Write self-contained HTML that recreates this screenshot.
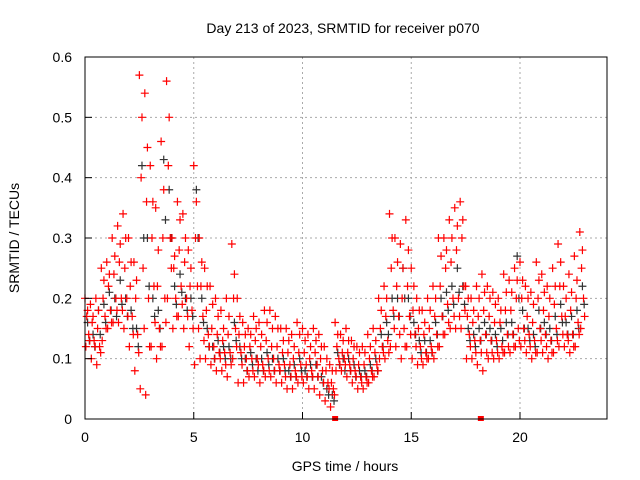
<!DOCTYPE html>
<html><head><meta charset="utf-8"><style>
body{margin:0;background:#fff}
svg{display:block;font-family:"Liberation Sans",sans-serif}
</style></head><body>
<svg id="chart" width="640" height="480" viewBox="0 0 640 480">
<rect width="640" height="480" fill="#fff"/>
<text x="343" y="33" font-size="14" text-anchor="middle">Day 213 of 2023, SRMTID for receiver p070</text>
<text transform="translate(19,238) rotate(-90)" font-size="14" text-anchor="middle">SRMTID / TECUs</text>
<text x="345" y="471" font-size="14" text-anchor="middle">GPS time / hours</text>
<g id="grid"></g>
<g id="marks"></g>
<rect x="85" y="57" width="522" height="362" fill="none" stroke="#000" stroke-width="1"/>
<g id="ticks"></g>
</svg>
<script>
const xTicks=[0,5,10,15,20];
const yTicks=[0,0.1,0.2,0.3,0.4,0.5,0.6];
const yTickLabels=["0","0.1","0.2","0.3","0.4","0.5","0.6"];
const slotHours=0.25;
const redHi=[.2,.19,.2,.25,.26,.3,.32,.34,.3,.26,.57,.54,.42,.35,.46,.56,.3,.36,.34,.28,.42,.3,.25,.22,.2,.18,.2,.29,.2,.16,.15,.17,.16,.18,.18,.17,.15,.15,.14,.16,.15,.14,.15,.14,.12,.09,
.16,.14,.15,.13,.12,.12,.14,.15,.2,.22,.34,.3,.29,.33,.25,.2,.18,.2,.22,.3,.3,.33,.35,.36,.22,.2,.22,.24,.22,.21,.2,.24,.23,.25,.26,.22,.21,.26,.24,.22,.25,.29,.22,.24,.27,.31];
const redMid3=[.18,.17,.18,.23,.24,.27,.29,.3,.26,.23,.5,.45,.36,.28,.38,.5,.27,.33,.3,.25,.36,.26,.22,.19,.17,.15,.17,.24,.17,.14,.14,.15,.14,.16,.15,.15,.13,.13,.12,.14,.13,.12,.13,.12,.1,.08,
.14,.13,.13,.12,.11,.11,.12,.13,.18,.2,.3,.26,.25,.28,.22,.18,.16,.18,.2,.27,.28,.3,.32,.33,.2,.18,.2,.21,.2,.19,.18,.21,.21,.23,.23,.2,.19,.23,.21,.2,.22,.26,.2,.21,.23,.28];
const redMid1=[.17,.16,.15,.2,.22,.24,.26,.25,.22,.2,.4,.36,.3,.22,.3,.42,.25,.28,.26,.22,.3,.22,.18,.15,.14,.13,.14,.2,.14,.12,.12,.13,.12,.13,.12,.12,.11,.11,.1,.11,.11,.1,.11,.1,.08,.06,
.12,.11,.11,.1,.09,.09,.1,.11,.15,.17,.25,.22,.2,.22,.18,.15,.14,.15,.17,.22,.25,.26,.28,.3,.17,.16,.17,.18,.17,.16,.16,.18,.18,.2,.2,.17,.16,.2,.18,.17,.19,.22,.17,.18,.2,.25];
const redMid2=[.14,.13,.12,.17,.18,.2,.2,.2,.17,.14,.25,.2,.22,.15,.2,.3,.2,.22,.2,.18,.22,.17,.14,.12,.11,.11,.11,.15,.11,.1,.1,.1,.09,.1,.1,.09,.09,.09,.08,.09,.09,.08,.09,.08,.06,.05,
.1,.1,.09,.08,.07,.07,.08,.09,.12,.13,.18,.17,.15,.17,.14,.12,.11,.12,.14,.17,.19,.2,.2,.22,.14,.13,.13,.14,.13,.13,.12,.14,.14,.15,.15,.14,.13,.15,.14,.13,.15,.17,.14,.14,.16,.2];
const redMid4=[.13,.12,.11,.15,.16,.18,.18,.17,.14,.11,.15,.12,.16,.12,.16,.25,.17,.19,.17,.15,.15,.13,.12,.1,.1,.09,.09,.12,.09,.08,.08,.09,.08,.08,.08,.08,.07,.07,.07,.07,.07,.07,.07,.06,.05,.04,
.09,.09,.08,.07,.06,.06,.07,.08,.11,.11,.15,.14,.12,.14,.12,.1,.1,.11,.12,.14,.16,.17,.17,.18,.12,.11,.11,.11,.11,.11,.11,.12,.12,.13,.13,.12,.11,.13,.12,.11,.13,.14,.13,.12,.14,.17];
const redLo=[.12,.1,.09,.13,.15,.16,.16,.15,.12,.08,.05,.04,.12,.1,.12,.2,.15,.17,.15,.12,.09,.1,.1,.09,.08,.08,.07,.1,.06,.06,.07,.07,.06,.07,.07,.06,.06,.05,.05,.06,.06,.05,.05,.04,.03,.02,
.08,.08,.07,.06,.05,.05,.06,.07,.1,.1,.12,.12,.1,.12,.1,.09,.09,.1,.1,.12,.14,.15,.15,.15,.1,.1,.09,.08,.1,.1,.1,.11,.11,.12,.12,.11,.1,.11,.11,.1,.11,.12,.12,.11,.12,.15];
const black=[.16,.14,.18,.19,.21,.2,.23,.2,.18,.15,.42,.3,.2,.18,.43,.38,.22,.24,.2,.2,.38,.2,.15,.12,.13,.12,.12,.16,.12,.1,.11,.1,.1,.11,.1,.1,.1,.08,.09,.1,.08,.09,.09,.07,.05,.04,
.11,.1,.1,.09,.08,.08,.09,.1,.14,.16,.2,.2,.25,.2,.16,.13,.13,.13,.16,.2,.21,.22,.25,.22,.15,.14,.15,.16,.15,.14,.15,.16,.16,.27,.18,.15,.14,.18,.16,.15,.17,.19,.16,.17,.18,.22];
const black2=[.13,.12,.14,.16,.18,.17,.19,.17,.15,.12,.3,.22,.17,.15,.33,.3,.19,.21,.18,.17,.3,.16,.12,.1,.11,.1,.1,.13,.1,.08,.09,.08,.08,.09,.08,.08,.08,.07,.07,.08,.07,.07,.07,.06,.04,.03,
.09,.08,.08,.07,.07,.07,.08,.08,.12,.14,.17,.17,.2,.17,.14,.11,.11,.11,.14,.17,.18,.19,.21,.19,.13,.12,.13,.14,.13,.12,.13,.14,.14,.2,.15,.13,.12,.15,.14,.13,.14,.16,.14,.14,.15,.19];
const gapHours=[11.5,18.2];
const NS="http://www.w3.org/2000/svg";
const X=t=>85+t*(435/20);
const Y=v=>419-v*(362/0.6);
function mk(tag,attrs,parent){const e=document.createElementNS(NS,tag);for(const k in attrs)e.setAttribute(k,attrs[k]);parent.appendChild(e);return e;}
const grid=document.getElementById('grid'),ticks=document.getElementById('ticks'),marks=document.getElementById('marks');
xTicks.forEach(t=>{
 if(t>0){const g=mk('line',{x1:X(t),x2:X(t),y1:57,y2:419,stroke:'#aaa','stroke-dasharray':'2,3'},grid);
 
 }
 const tk=mk('line',{x1:X(t),x2:X(t),y1:419,y2:412,stroke:'#000'},ticks);
 
 
 const tx=mk('text',{x:X(t),y:442,'font-size':14,'text-anchor':'middle'},ticks);tx.textContent=t;
 
 
});
yTicks.forEach((v,i)=>{
 if(v>0){const g=mk('line',{x1:85,x2:607,y1:Y(v),y2:Y(v),stroke:'#aaa','stroke-dasharray':'2,3'},grid);
 
 }
 const tk=mk('line',{x1:85,x2:92,y1:Y(v),y2:Y(v),stroke:'#000'},ticks);
 
 
 const tx=mk('text',{x:72,y:Y(v)+5,'font-size':14,'text-anchor':'end'},ticks);tx.textContent=yTickLabels[i];
 
 
});
function plus(t,v,color,name){
 const x=X(t),y=Y(v);
 const p=mk('path',{d:`M${x-4},${y}h8M${x},${y-4}v8`,stroke:color,'stroke-width':1.2,fill:'none'},marks);
 
 
}
black.forEach((v,i)=>plus(i*slotHours+0.12,v,'#333','black-point'));
black2.forEach((v,i)=>plus(i*slotHours+0.2,v,'#333','black-point'));
[[redHi,0],[redMid3,0.12],[redMid1,0.08],[redMid2,0.17],[redMid4,0.22],[redLo,0.04]].forEach(([arr,off])=>arr.forEach((v,i)=>plus(i*slotHours+off,v,'#f00','red-point')));
gapHours.forEach(t=>{const r=mk('rect',{x:X(t)-3,y:416,width:6,height:5,fill:'#f00'},marks);
 
 });
</script>
</body></html>
